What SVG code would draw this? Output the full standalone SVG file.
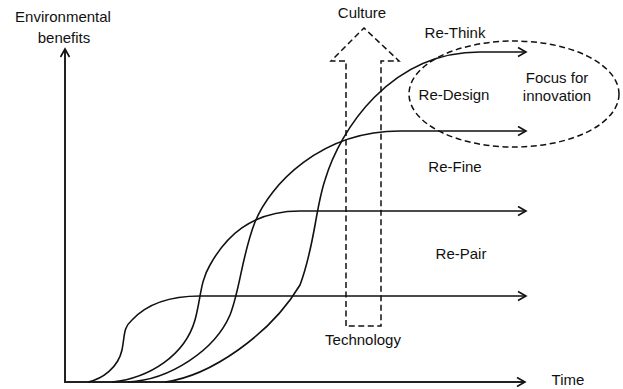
<svg xmlns="http://www.w3.org/2000/svg" width="623" height="389" viewBox="0 0 623 389">
<defs>
<style>
text{font-family:"Liberation Sans",Arial,sans-serif;font-size:15px;fill:#111;text-anchor:middle}
.ln{fill:none;stroke:#111;stroke-width:1.6}
.ax{fill:none;stroke:#222;stroke-width:2}
.dash{fill:none;stroke:#111;stroke-width:1.5;stroke-dasharray:6 3.5}
</style>
<marker id="ah" markerWidth="12" markerHeight="12" viewBox="-10 -6 12 12" refX="0" refY="0" orient="auto" markerUnits="userSpaceOnUse">
<path d="M-8,-4.5 L0,0 L-8,4.5" fill="none" stroke="#111" stroke-width="1.6"/>
</marker>
</defs>
<g id="axes">
<line class="ax" x1="65" y1="382" x2="65" y2="49" marker-end="url(#ah)"/>
<line class="ax" x1="64" y1="382" x2="525" y2="382" marker-end="url(#ah)"/>
</g>
<g id="connectors">
<path class="ln" d="M88,382 C102,379 118,368 122,350 C125,335 123,328 132,320 C145,306 165,296 200,296 L526,296" marker-end="url(#ah)"/>
<path class="ln" d="M112,382 C150,378 185,355 195,320 C201,298 200,282 210,265 C225,238 250,211 300,211 L526,211" marker-end="url(#ah)"/>
<path class="ln" d="M128,382 C170,380 215,350 230,315 C240,290 242,255 255,222 C270,185 320,131 400,131 L526,131" marker-end="url(#ah)"/>
<path class="ln" d="M165,382 C210,376 270,335 300,285 C315,245 315,210 325,180 C340,130 390,52 480,52 L526,52" marker-end="url(#ah)"/>
</g>
<g id="culture-arrow">
<polygon class="dash" points="346,326 346,61 331,61 364,28 399,61 381,61 381,326"/>
</g>
<g id="focus">
<ellipse class="dash" cx="514" cy="94" rx="105" ry="53"/>
</g>
<g id="labels">
<text x="63" y="22">Environmental</text>
<text x="64" y="43">benefits</text>
<text x="362" y="18">Culture</text>
<text x="455" y="38">Re-Think</text>
<text x="454" y="100">Re-Design</text>
<text x="557" y="83">Focus for</text>
<text x="557" y="101">innovation</text>
<text x="455" y="172">Re-Fine</text>
<text x="461" y="259">Re-Pair</text>
<text x="363" y="345">Technology</text>
<text x="568" y="385">Time</text>
</g>
</svg>
